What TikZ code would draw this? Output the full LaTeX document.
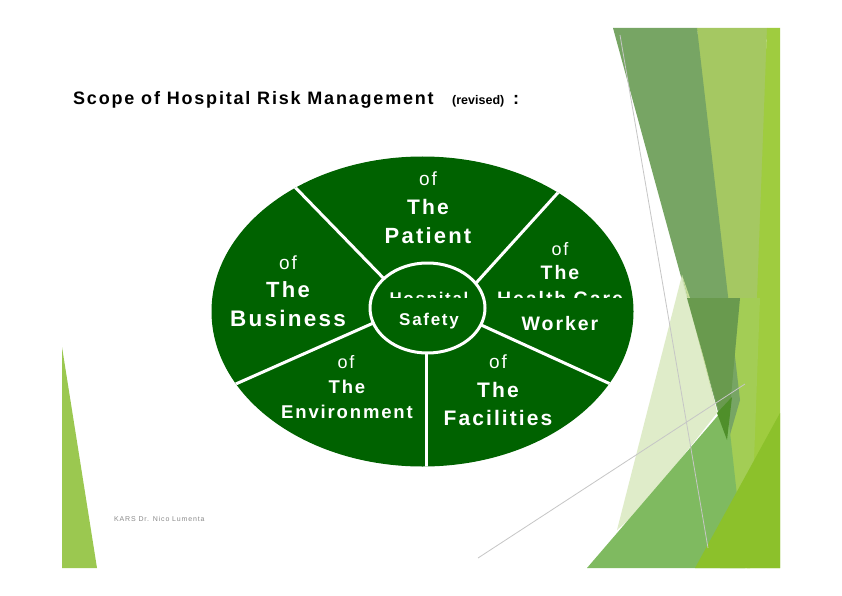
\documentclass[tikz,border=0pt]{standalone}
\usepackage{fontspec}
\setmainfont{Liberation Sans}
\newfontfamily\lsp[LetterSpace=10]{Liberation Sans}
\newfontfamily\tsp[LetterSpace=10]{Liberation Sans}
\newfontfamily\fsp[LetterSpace=12]{Liberation Sans}
\usetikzlibrary{shapes.geometric}
\definecolor{ellgreen}{RGB}{0,98,0}
\definecolor{lefttri}{HTML}{9BC850}
\definecolor{darkband}{HTML}{77A564}
\definecolor{lightband}{HTML}{A5C862}
\definecolor{brightstrip}{HTML}{9FCC3F}
\definecolor{midlight}{HTML}{A3CD55}
\definecolor{ovgreen}{HTML}{699A4E}
\definecolor{darkestgreen}{HTML}{4F8F2A}
\definecolor{palegreen}{HTML}{DCEAC4}
\definecolor{yellowgreen}{HTML}{C6DC98}
\definecolor{medgreen}{HTML}{7FBA60}
\definecolor{limegreen}{HTML}{8CC12B}
\definecolor{footgray}{HTML}{8A8A8A}
\tikzset{
  lbl/.style={anchor=base, text=white, inner sep=0pt},
  ofl/.style={lbl, font=\lsp\fontsize{#1}{#1}\selectfont},
  bigl/.style={lbl, font=\lsp\bfseries\fontsize{#1}{#1}\selectfont},
  spoke/.style={draw=white, line width=3pt},
  gline/.style={draw=gray!45, line width=0.8pt}
}
\begin{document}
\begin{tikzpicture}[x=1pt,y=-1pt]
\useasboundingbox (0,0) rectangle (842,596);
\fill[white] (0,0) rectangle (842,596);
% decorations
\fill[lefttri] (62,347) -- (97,568) -- (62,568) -- cycle;
\fill[lightband] (697,28) -- (767,28) -- (757,460) -- (727,445) -- cycle;
\fill[brightstrip] (767,28) -- (780,28) -- (780,568) -- (747,568) -- cycle;
\fill[midlight] (727,445) -- (740,298) -- (760,298) -- (750,568) -- (720,568) -- cycle;
\fill[darkband] (613,28) -- (697,28) -- (740,400) -- (727,445) -- cycle;
\fill[palegreen, opacity=0.9] (682,275) -- (717,413) -- (640,510) -- (617,530) -- cycle;
\fill[yellowgreen] (682,275) -- (690,298) -- (717,413) -- cycle;
\fill[ovgreen] (687,298) -- (740,298) -- (727,440) -- cycle;
\fill[medgreen] (587,568) -- (727,405) -- (745,568) -- cycle;
\fill[darkestgreen] (717,413) -- (732,397) -- (727,440) -- cycle;
\fill[limegreen] (695,568) -- (780,413) -- (780,568) -- cycle;
\draw[gline] (620,35) -- (708,548);
\draw[gline] (478,558) -- (745,384);
% title
\node[anchor=base west, inner sep=0pt, font=\tsp\bfseries\fontsize{18}{18}\selectfont] (title) at (73,105) {Scope of Hospital Risk Management};
\node[anchor=base west, inner sep=0pt, font=\bfseries\fontsize{12.5}{12.5}\selectfont] (rev) at (452,105) {(revised)};
\node[anchor=base west, inner sep=0pt, font=\bfseries\fontsize{18}{18}\selectfont] (colon) at (513,105) {:};
% ellipse
\fill[ellgreen] (422.5,311.5) ellipse [x radius=211, y radius=155];
\begin{scope}
\clip (422.5,311.5) ellipse [x radius=211, y radius=155];
\draw[spoke] (290,182) -- (393,288);
\draw[spoke] (564,186) -- (467,293);
\draw[spoke] (229,387) -- (387,317);
\draw[spoke] (617,387) -- (468,319);
\draw[spoke] (426,475) -- (426,340);
\end{scope}
\node[ellipse, fill=ellgreen, draw=white, line width=3pt, minimum width=115pt, minimum height=90pt, inner sep=0pt] (hub) at (427.5,308) {};
% texts
\node[ofl=19] (p1) at (428,185) {of};
\node[bigl=21] (p2) at (428,214) {The};
\node[bigl=22] (p3) at (428,243) {Patient};
\node[ofl=19] (b1) at (288,269) {of};
\node[bigl=22] (b2) at (288,297) {The};
\node[bigl=22.5] (b3) at (288,326) {Business};
\node[ofl=18] (h1) at (560,255) {of};
\node[bigl=19.5] (h2) at (560,279) {The};
\node[bigl=19.5] (h4) at (560,330) {Worker};
\node[ofl=18] (e1) at (346,368) {of};
\node[bigl=18.5] (e2) at (347,393) {The};
\node[bigl=18.5] (e3) at (347,418) {Environment};
\node[ofl=19] (f1) at (498,368) {of};
\node[bigl=21] (f2) at (498,397) {The};
\node[bigl=21] (f3) at (498,425) {Facilities};
\node[lbl, font=\lsp\bfseries\fontsize{17}{17}\selectfont] (s2) at (429,325.5) {Safety};
\begin{scope}
\clip (0,0) rectangle (842,297.5);
\node[lbl, font=\lsp\bfseries\fontsize{17}{17}\selectfont] (s1) at (429,304.5) {Hospital};
\node[bigl=19.5] (h3) at (560,305.5) {Health Care};
\end{scope}
% footer
\node[anchor=base west, inner sep=0pt, text=footgray, font=\fsp\fontsize{7}{7}\selectfont] (foot) at (114,521) {KARS Dr. Nico Lumenta};
\end{tikzpicture}
\end{document}
